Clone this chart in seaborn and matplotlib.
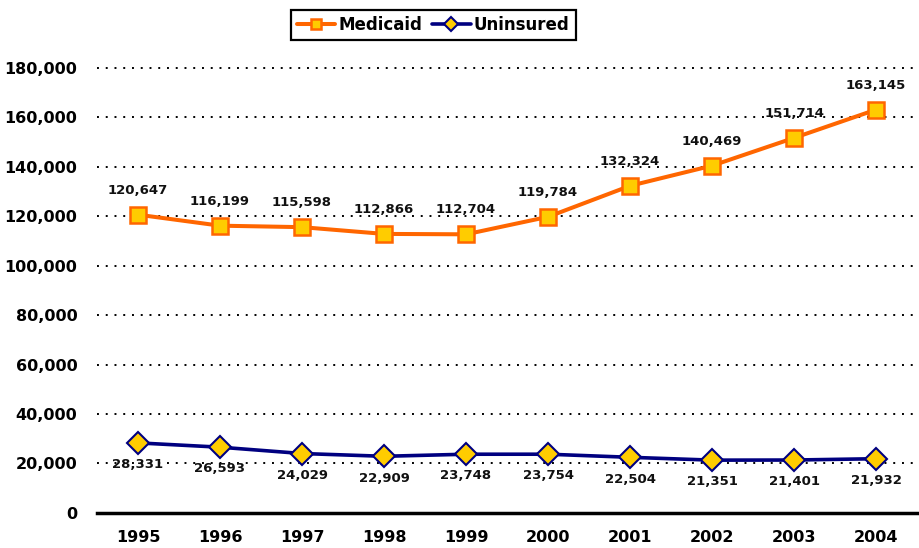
import pandas as pd
import numpy as np
import matplotlib
matplotlib.use('Agg')
import matplotlib.pyplot as plt
import seaborn as sns

years = ['1995', '1996', '1997', '1998', '1999', '2000', '2001', '2002', '2003', '2004']
medicaid = [120647, 116199, 115598, 112866, 112704, 119784, 132324, 140469, 151714, 163145]
uninsured = [28331, 26593, 24029, 22909, 23748, 23754, 22504, 21351, 21401, 21932]

df = pd.DataFrame({'pos': np.arange(len(years)), 'year': years,
                   'Medicaid': medicaid, 'Uninsured': uninsured})

sns.set_theme(style='white')
plt.rcParams['font.family'] = ['DejaVu Sans']
plt.rcParams['text.color'] = 'black'

fig = plt.figure(figsize=(9.19, 5.48), dpi=100)
ax = fig.add_axes([0.1055, 0.064, 0.8925, 0.812])

# Medicaid line
sns.lineplot(data=df, x='pos', y='Medicaid', ax=ax, color='#FF6600', linewidth=2.9,
             marker='s', markersize=12, markerfacecolor='#FFCC00',
             markeredgecolor='#FF6600', markeredgewidth=1.8, label='Medicaid')
# Uninsured line
sns.lineplot(data=df, x='pos', y='Uninsured', ax=ax, color='#000080', linewidth=2.6,
             marker='D', markersize=11, markerfacecolor='#FFCC00',
             markeredgecolor='#000080', markeredgewidth=1.5, label='Uninsured')

for i, v in enumerate(medicaid):
    ax.annotate(f'{v:,}', (i, v), xytext=(0, 13), textcoords='offset points',
                ha='center', va='bottom', fontsize=9.5, fontweight='bold', color='#111111')
for i, v in enumerate(uninsured):
    ax.annotate(f'{v:,}', (i, v), xytext=(0, -11), textcoords='offset points',
                ha='center', va='top', fontsize=9.5, fontweight='bold', color='#111111')

ax.set_xlim(-0.5, len(years) - 0.5)
ax.set_ylim(0, 180000)
yt = np.arange(0, 180001, 20000)
ax.set_yticks(yt)
ax.set_yticklabels([f'{t:,}' for t in yt], fontsize=11.5, fontweight='bold', color='black')
ax.set_xticks(df['pos'])
ax.set_xticklabels(years, fontsize=11.5, fontweight='bold', color='black')
ax.set_xticks(np.arange(-0.5, len(years)), minor=True)
ax.tick_params(axis='x', which='major', length=0, pad=12)
ax.tick_params(axis='x', which='minor', length=8, width=2, direction='out', color='black')
ax.tick_params(axis='y', length=0, pad=14)

for t in yt[1:]:
    ax.axhline(t, color='black', linestyle=(0, (1, 3.5)), linewidth=1.4, zorder=0,
               clip_on=False)

for s in ['top', 'right', 'left']:
    ax.spines[s].set_visible(False)
ax.spines['bottom'].set_color('black')
ax.spines['bottom'].set_linewidth(2.5)
ax.set_xlabel('')
ax.set_ylabel('')

leg = ax.legend(loc='lower center', bbox_to_anchor=(0.41, 1.045), ncol=2, frameon=True,
                fancybox=False, edgecolor='black', framealpha=1, handlelength=2.3,
                handletextpad=0.2, columnspacing=0.6, borderpad=0.35,
                prop={'weight': 'bold', 'size': 12})
leg.get_frame().set_linewidth(1.6)
for h in leg.legend_handles:
    h.set_markersize(7)

fig.savefig('out.png', dpi=100)
